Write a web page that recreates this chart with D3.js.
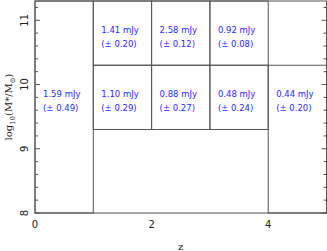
<!DOCTYPE html>
<html><head><meta charset="utf-8">
<script src="https://cdn.jsdelivr.net/npm/d3@7"></script>
<style>body{margin:0;background:#fff}svg{display:block}</style>
</head><body>
<svg id="c" width="327" height="251"></svg>
<script>
// Bins: z range, mass range (log10 M*/Msun), flux, error
const binZ0 = [0, 1, 2, 3, 1, 2, 3, 4];
const binZ1 = [1, 2, 3, 4, 2, 3, 4, 5];
const binM0 = [8, 10.3, 10.3, 10.3, 9.3, 9.3, 9.3, 8];
const binM1 = [11.3, 11.3, 11.3, 11.3, 10.3, 10.3, 10.3, 10.3];
const flux = [1.59, 1.41, 2.58, 0.92, 1.10, 0.88, 0.48, 0.44];
const fluxErr = [0.49, 0.20, 0.12, 0.08, 0.29, 0.27, 0.24, 0.20];
const labelM = [9.8, 10.8, 10.8, 10.8, 9.8, 9.8, 9.8, 9.8];
const xTicks = [0, 2, 4];
const yTicks = [8, 9, 10, 11];

const svg = d3.select("#c");
const x = d3.scaleLinear().domain([0, 5]).range([35, 326.5]);
const y = d3.scaleLinear().domain([8, 11.3]).range([213, 1]);
const lineCol = "#555";

// bins rectangles
const bins = flux.map((f, i) => ({z0: binZ0[i], z1: binZ1[i], m0: binM0[i], m1: binM1[i], f, e: fluxErr[i], lm: labelM[i]}));
svg.append("g").selectAll("rect").data(bins).join("rect")
  .attr("x", d => x(d.z0)).attr("y", d => y(d.m1))
  .attr("width", d => x(d.z1) - x(d.z0)).attr("height", d => y(d.m0) - y(d.m1))
  .attr("fill", "none").attr("stroke", lineCol).attr("stroke-width", 1);

// frame
svg.append("rect").attr("x", x(0)).attr("y", y(11.3)).attr("width", x(5) - x(0)).attr("height", y(8) - y(11.3))
  .attr("fill", "none").attr("stroke", lineCol).attr("stroke-width", 1);

// y ticks (inside, both sides)
const minor = d3.range(8, 11.3001, 0.2).map(v => +v.toFixed(1));
minor.forEach(v => {
  const major = Math.abs(v - Math.round(v)) < 1e-6;
  const len = major ? 5 : 3;
  svg.append("line").attr("x1", x(0)).attr("x2", x(0) + len).attr("y1", y(v)).attr("y2", y(v)).attr("stroke", lineCol);
  svg.append("line").attr("x1", x(5)).attr("x2", x(5) - len).attr("y1", y(v)).attr("y2", y(v)).attr("stroke", lineCol);
});

// y tick labels rotated
svg.append("g").selectAll("text").data(yTicks).join("text")
  .attr("transform", d => `translate(28,${y(d)}) rotate(-90)`)
  .attr("text-anchor", "middle").attr("font-family", "DejaVu Sans").attr("font-size", 10).attr("fill", "#222")
  .text(d => d);

// x tick labels
svg.append("g").selectAll("text").data(xTicks).join("text")
  .attr("x", d => x(d)).attr("y", 228)
  .attr("text-anchor", "middle").attr("font-family", "DejaVu Sans").attr("font-size", 10).attr("fill", "#222")
  .text(d => d);

// axis titles
svg.append("text").attr("x", (x(0) + x(5)) / 2).attr("y", 250)
  .attr("text-anchor", "middle").attr("font-family", "DejaVu Serif").attr("font-size", 10).attr("fill", "#222").text("z");
const yl = svg.append("text").attr("transform", `translate(12,${(y(8) + y(11.3)) / 2}) rotate(-90)`)
  .attr("text-anchor", "middle").attr("font-family", "DejaVu Serif").attr("font-size", 10).attr("fill", "#222");
yl.append("tspan").text("log");
yl.append("tspan").attr("dy", 3).attr("font-size", 7).text("10");
yl.append("tspan").attr("dy", -3).text("(M*/M");
yl.append("tspan").attr("dy", 3).attr("font-size", 7).text("⊙");
yl.append("tspan").attr("dy", -3).text(")");

// bin labels
const lab = svg.append("g").attr("font-family", "DejaVu Sans").attr("font-size", 8.5).attr("fill", "#2b2bff");
lab.selectAll("text.f").data(bins).join("text").attr("class", "f")
  .attr("x", d => x(d.z0) + 8).attr("y", d => y(d.lm) - 0)
  .text(d => d.f.toFixed(2) + " mJy");
lab.selectAll("text.e").data(bins).join("text").attr("class", "e")
  .attr("x", d => x(d.z0) + 8).attr("y", d => y(d.lm) + 14)
  .text(d => "(± " + d.e.toFixed(2) + ")");
</script>
</body></html>
